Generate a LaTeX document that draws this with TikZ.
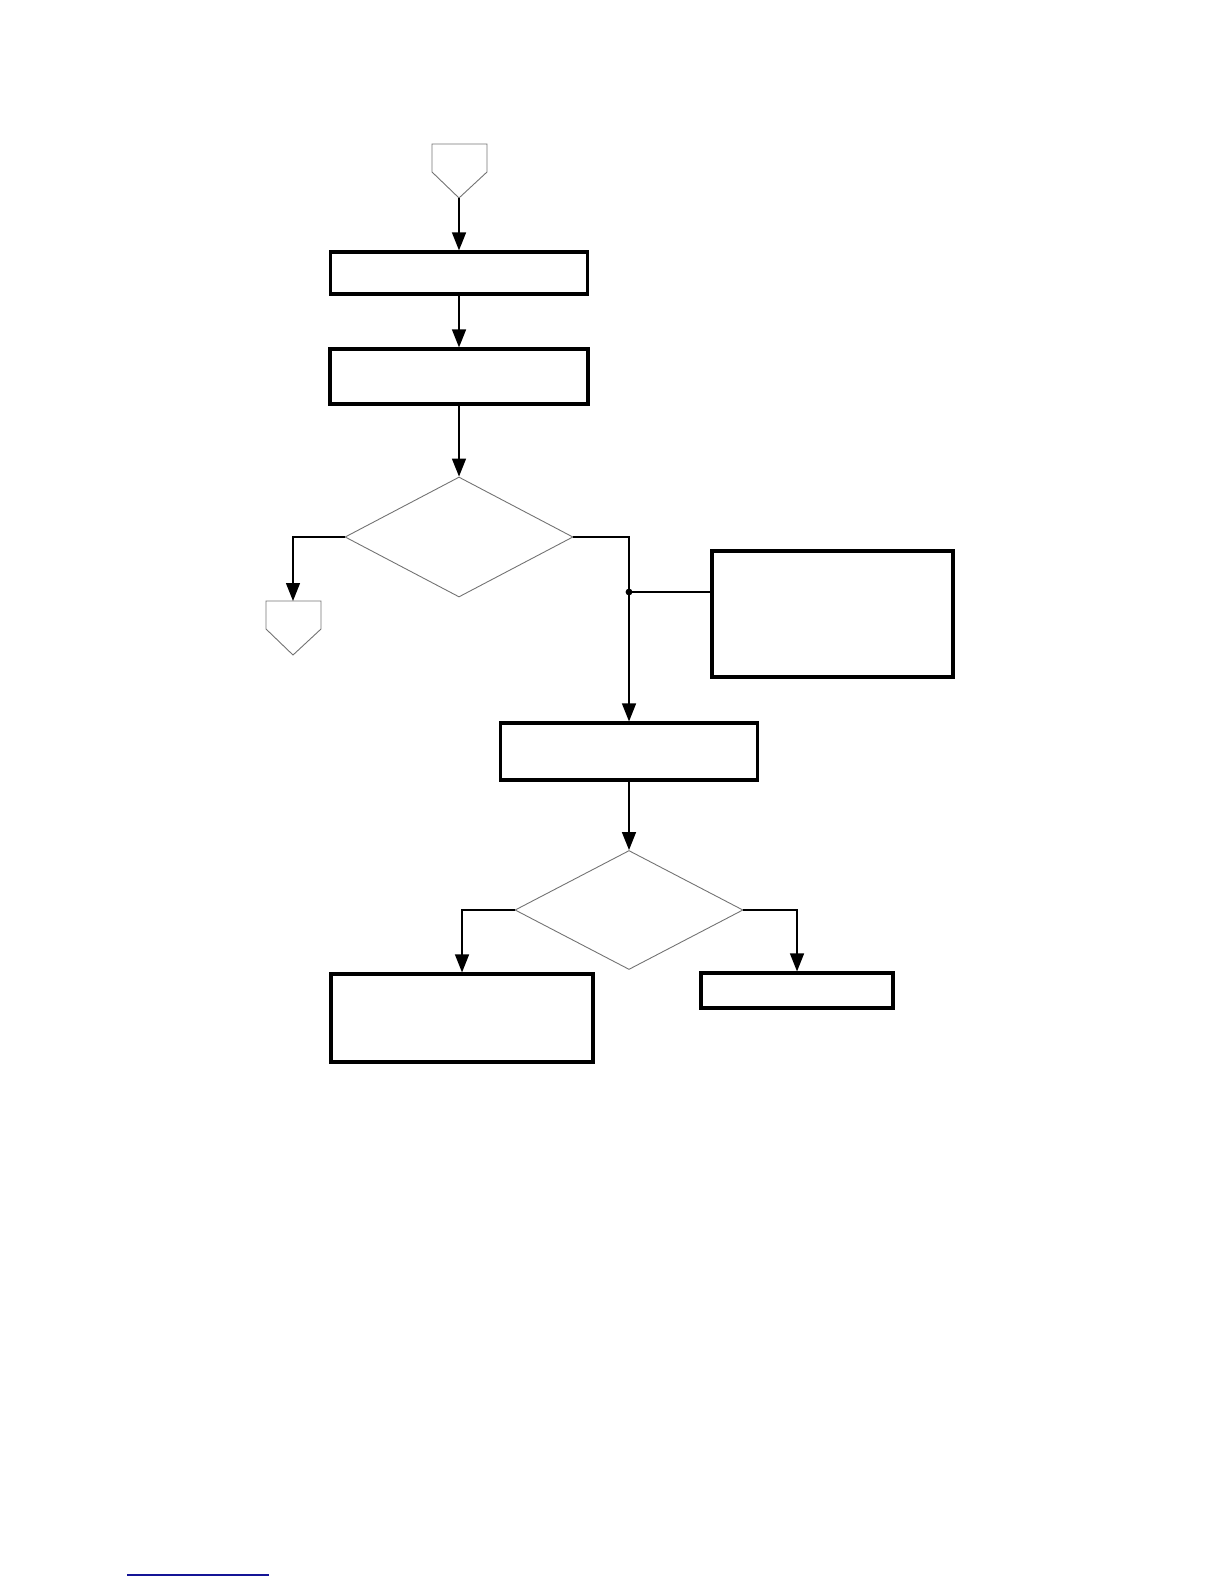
\documentclass[tikz,border=0pt]{standalone}
\usetikzlibrary{shapes.geometric,arrows.meta}
\begin{document}
\begin{tikzpicture}[x=1pt,y=-1pt,
  procbox/.style={draw=black,line width=3.2pt,rectangle,inner sep=0pt,fill=white},
  decbox/.style={draw=black!55,line width=0.9pt,diamond,inner sep=0pt},
  pent/.style={draw=black!55,line width=0.9pt},
  conn/.style={draw=black,line width=1.4pt},
  arr/.style={conn,-{Triangle[length=18pt,width=14pt]}}]
\useasboundingbox (0,0) rectangle (1224,1584);
% off-page connectors
\draw[pent] (432,144) -- (487,144) -- (487,172) -- (459,198) -- (432,172) -- cycle;
\coordinate (p1tip) at (459,198);
\draw[pent] (266,601) -- (321,601) -- (321,629) -- (293,655) -- (266,629) -- cycle;
\coordinate (p2top) at (293,601);
% boxes
\node[procbox,minimum width=257pt,minimum height=42pt] (b1) at (459,273) {};
\node[procbox,minimum width=258pt,minimum height=55pt] (b2) at (459,376.5) {};
\node[procbox,minimum width=241pt,minimum height=126pt] (b3) at (832.5,614) {};
\node[procbox,minimum width=257pt,minimum height=57pt] (b4) at (629,751.5) {};
\node[procbox,minimum width=262pt,minimum height=88pt] (b5) at (462,1018) {};
\node[procbox,minimum width=192pt,minimum height=35pt] (b6) at (797,990.5) {};
% decisions
\node[decbox,minimum width=228pt,minimum height=120pt] (d1) at (459,537) {};
\node[decbox,minimum width=228pt,minimum height=119pt] (d2) at (629,910) {};
% connectors
\draw[arr] (p1tip) -- (p1tip |- b1.north);
\draw[arr] (b1.south) -- (b2.north);
\draw[arr] (b2.south) -- (d1.north);
\draw[arr] (d1.west) -| (p2top);
\coordinate (jn) at (b4.north |- 0,592);
\draw[arr] (d1.east) -| (b4.north);
\draw[conn] (jn) -- (b3.west |- jn);
\fill (jn) circle (3.4pt);
\draw[arr] (b4.south) -- (d2.north);
\draw[arr] (d2.west) -| (b5.north);
\draw[arr] (d2.east) -| (b6.north);
% footer rule
\draw[draw={rgb,255:red,20;green,20;blue,150},line width=1.6pt] (127,1575) -- (269,1575);
\end{tikzpicture}
\end{document}
